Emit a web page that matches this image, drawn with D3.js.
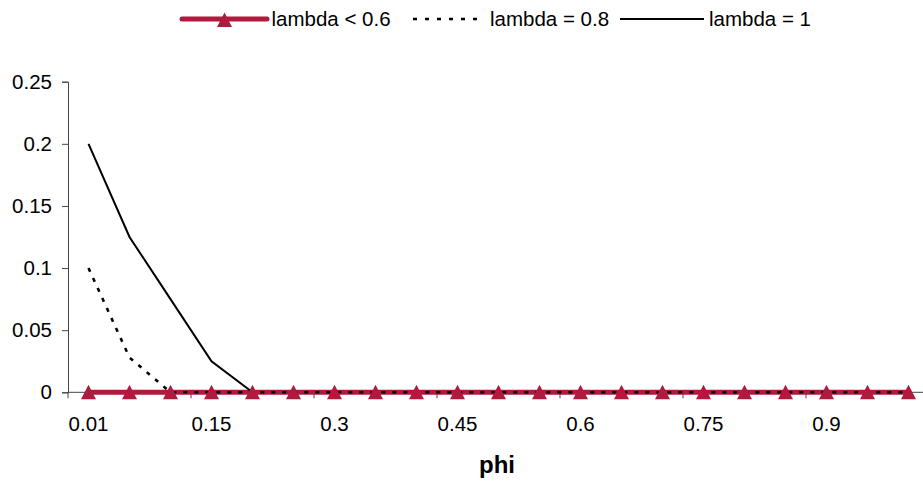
<!DOCTYPE html>
<html><head><meta charset="utf-8">
<script src="https://cdn.jsdelivr.net/npm/d3@7"></script>
<style>body{margin:0;background:#fff;} svg{display:block;font-family:"Liberation Sans",Arial,sans-serif;}</style>
</head><body><div id="chart"></div>
<script>
const categories = ["0.01","0.05","0.1","0.15","0.2","0.25","0.3","0.35","0.4","0.45","0.5","0.55","0.6","0.65","0.7","0.75","0.8","0.85","0.9","0.95","1"];
const lambdaLow = [0,0,0,0,0,0,0,0,0,0,0,0,0,0,0,0,0,0,0,0,0];
const lambda08 = [0.1,0.028,0,0,0,0,0,0,0,0,0,0,0,0,0,0,0,0,0,0,0];
const lambda1 = [0.2,0.125,0.075,0.025,0];
const yTicks = [0,0.05,0.1,0.15,0.2,0.25];
const xLabelEvery = 3;
const seriesNames = ["lambda < 0.6","lambda = 0.8","lambda = 1"];

const W = 923, H = 484;
const RED = "#AF1A3E";
const svg = d3.select("#chart").append("svg").attr("width", W).attr("height", H);

const x = d3.scaleBand().domain(categories).range([68, 929]).padding(0);
const y = d3.scaleLinear().domain([0, 0.25]).range([392.3, 81.7]);
const cx = c => x(c) + x.bandwidth() / 2;
const fs = "20.5px";

// Y axis
const yAxis = d3.axisLeft(y).tickValues(yTicks).tickSize(6).tickPadding(10)
  .tickFormat(d => String(+d.toFixed(2)));
const gy = svg.append("g").attr("transform", `translate(${x.range()[0]},0)`).call(yAxis);
gy.select(".domain").attr("stroke", "#444").attr("stroke-width", 1);
gy.selectAll(".tick line").attr("stroke", "#444");
gy.selectAll("text").attr("font-size", fs).attr("fill", "#000").attr("font-family", "Liberation Sans, Arial, sans-serif");

// X axis
const gx = svg.append("g").attr("transform", `translate(0,${y(0)})`);
gx.append("line").attr("x1", x.range()[0]).attr("x2", x.range()[1]).attr("stroke", "#444");
const boundaries = d3.range(0, categories.length + 1, xLabelEvery);
gx.selectAll("line.tk").data(boundaries).join("line").attr("class", "tk")
  .attr("x1", i => x.range()[0] + i * x.bandwidth()).attr("x2", i => x.range()[0] + i * x.bandwidth())
  .attr("y1", 0).attr("y2", 6).attr("stroke", "#444");
gx.selectAll("text").data(categories.filter((c, i) => i % xLabelEvery === 0)).join("text")
  .attr("x", d => cx(d)).attr("y", 39).attr("text-anchor", "middle").attr("font-size", fs).text(d => d);

svg.append("text").attr("x", 497).attr("y", 473).attr("text-anchor", "middle")
  .attr("font-size", "24px").attr("font-weight", "bold").text("phi");

// Lines
const line = d3.line().x((d, i) => cx(categories[i])).y(d => y(d));
svg.append("path").datum(lambdaLow).attr("d", line).attr("fill", "none").attr("stroke", RED).attr("stroke-width", 5);
svg.append("path").datum(lambda1).attr("d", line).attr("fill", "none").attr("stroke", "#000").attr("stroke-width", 2);
svg.append("path").datum(lambda08).attr("d", line).attr("fill", "none").attr("stroke", "#000").attr("stroke-width", 2.6).attr("stroke-dasharray", "4 7");

// Markers
const tri = "M0,-7.5L7.5,7L-7.5,7Z";
svg.selectAll("path.mk").data(lambdaLow).join("path").attr("class", "mk")
  .attr("d", tri).attr("fill", RED)
  .attr("transform", (d, i) => `translate(${cx(categories[i])},${y(d)})`);

// Legend
const lg = svg.append("g");
lg.append("line").attr("x1", 182).attr("x2", 267).attr("y1", 19).attr("y2", 19).attr("stroke", RED).attr("stroke-width", 5).attr("stroke-linecap", "round");
lg.append("path").attr("d", tri).attr("fill", RED).attr("transform", "translate(224.5,20)");
lg.append("text").attr("x", 271.5).attr("y", 26).attr("font-size", fs).text(seriesNames[0]);
lg.append("line").attr("x1", 413).attr("x2", 482).attr("y1", 19).attr("y2", 19).attr("stroke", "#000").attr("stroke-width", 2.6).attr("stroke-dasharray", "4 8");
lg.append("text").attr("x", 490).attr("y", 26).attr("font-size", fs).text(seriesNames[1]);
lg.append("line").attr("x1", 620).attr("x2", 704).attr("y1", 19).attr("y2", 19).attr("stroke", "#000").attr("stroke-width", 2);
lg.append("text").attr("x", 709).attr("y", 26).attr("font-size", fs).text(seriesNames[2]);
</script></body></html>
